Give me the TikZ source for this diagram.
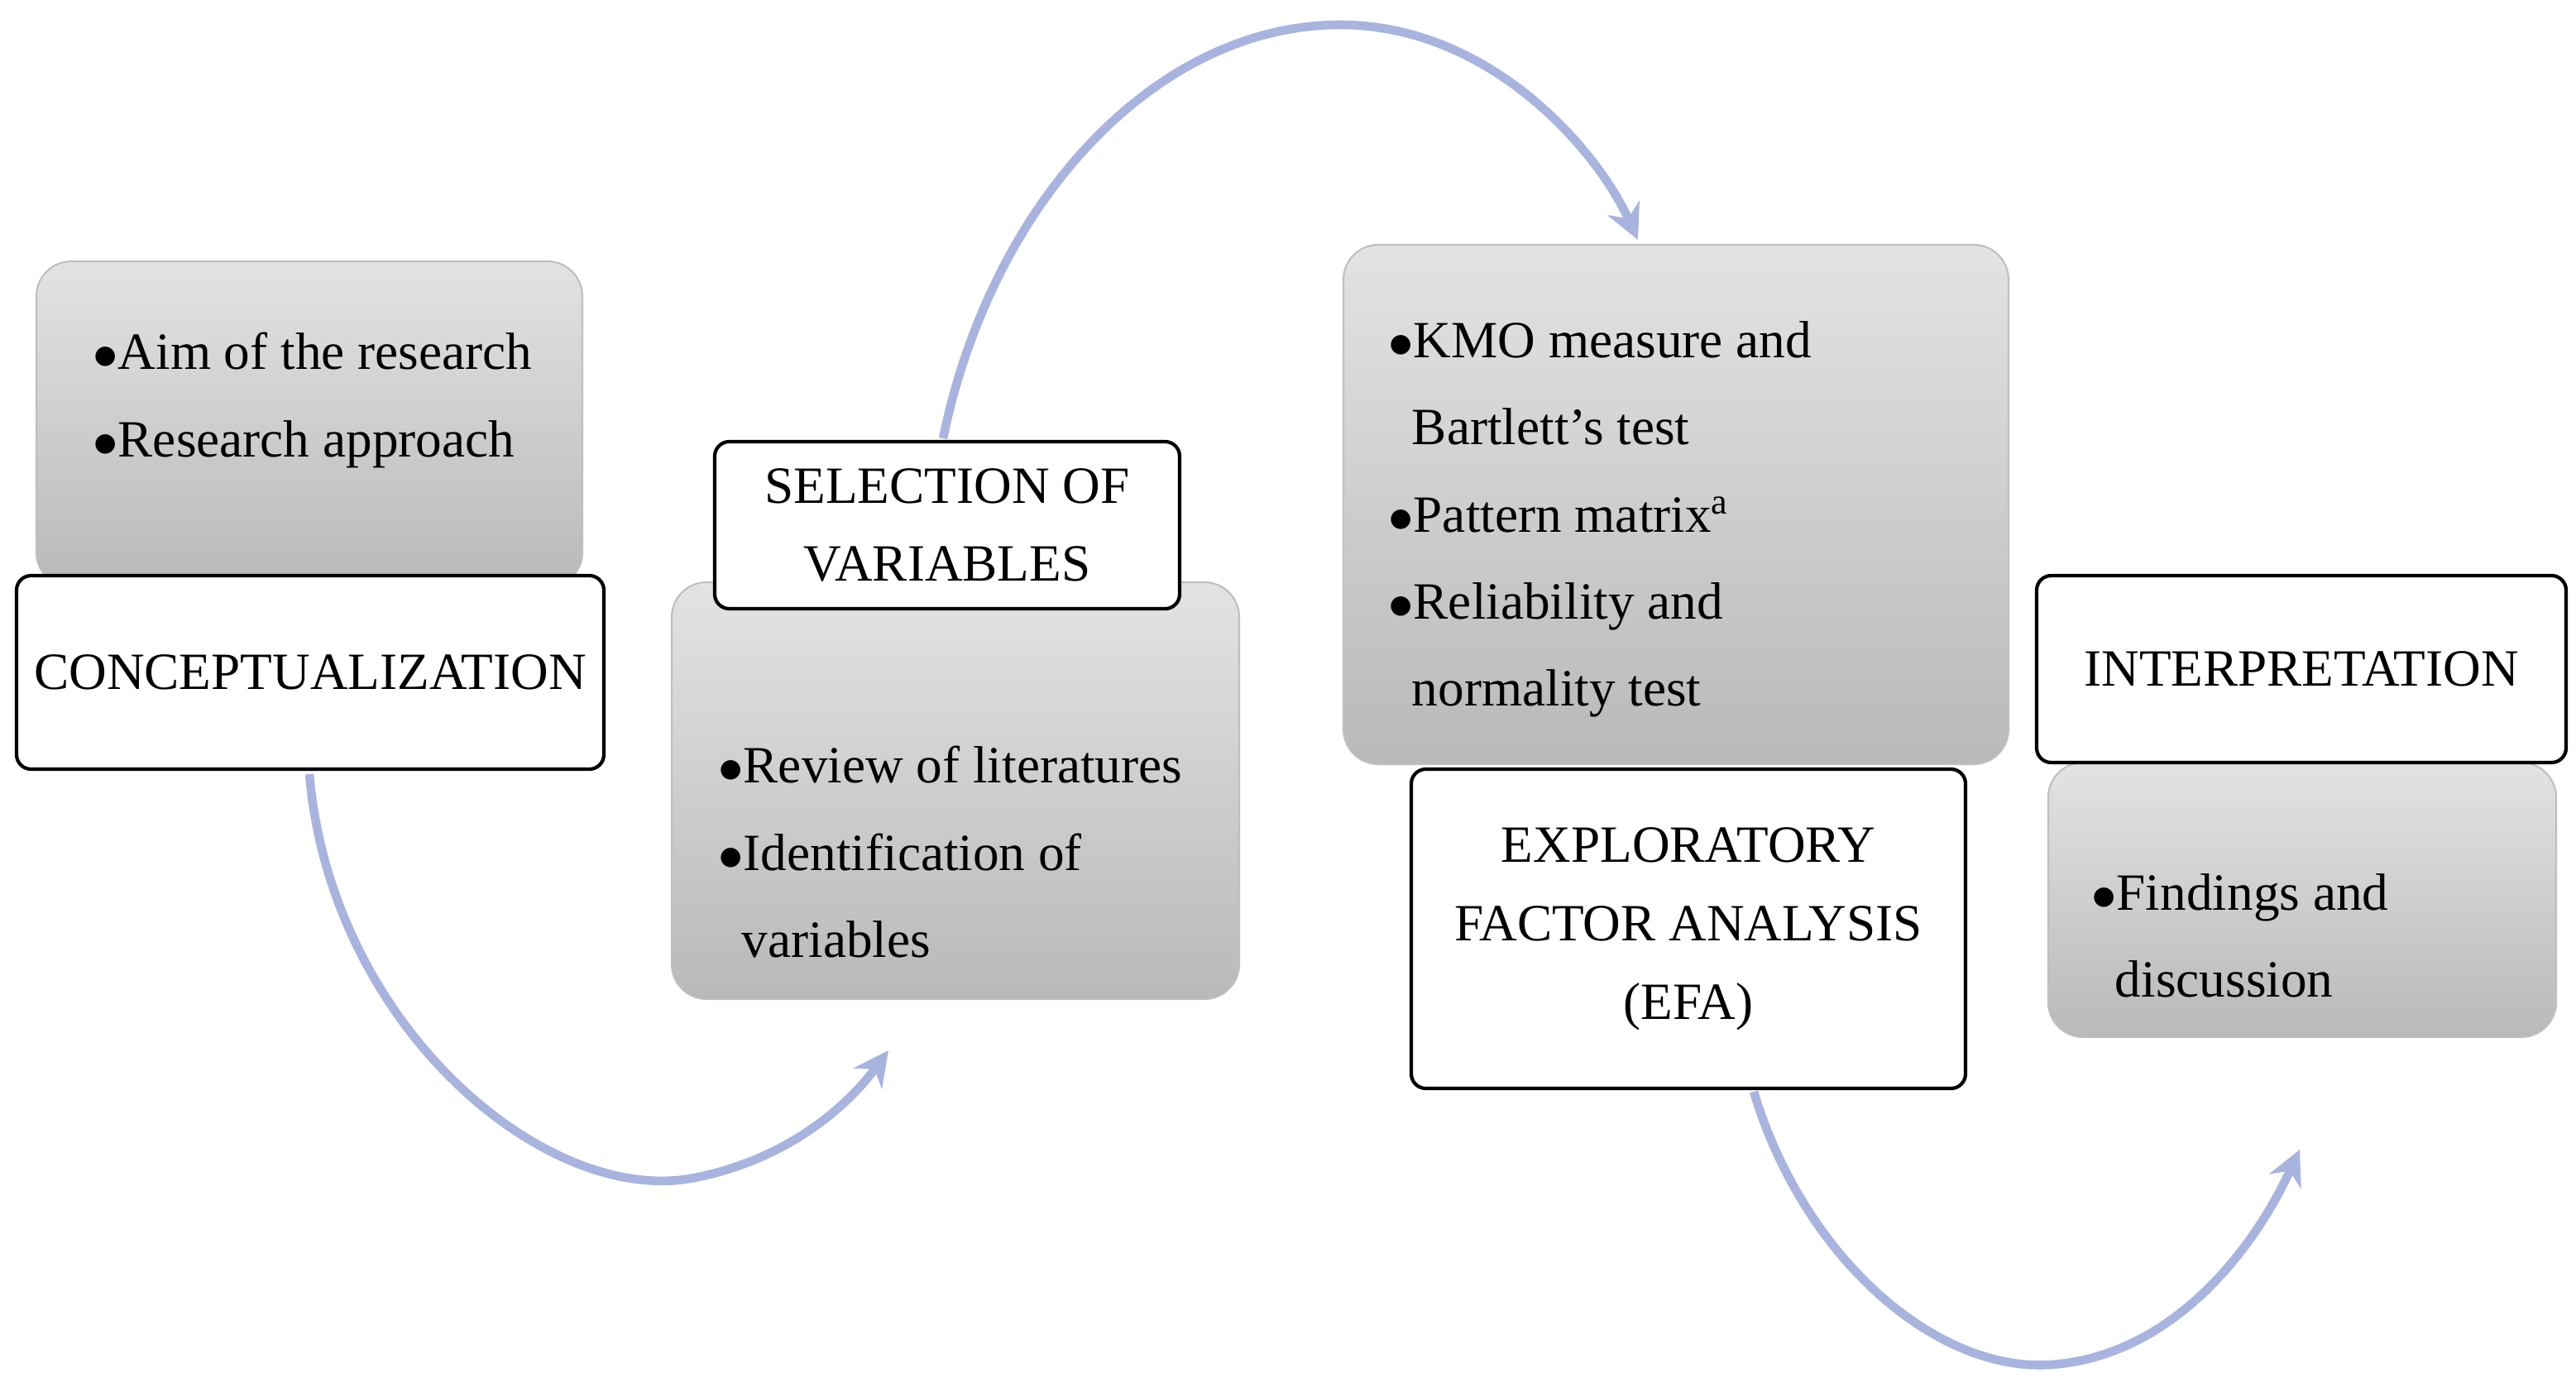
\documentclass[tikz,border=0pt]{standalone}
\usepackage{fontspec}
\setmainfont{Liberation Serif}
\usetikzlibrary{arrows.meta}
\definecolor{arr}{HTML}{A9B4DE}
\tikzset{
 graybox/.style={rounded corners=12pt, top color=gray!22, bottom color=gray!55, draw=gray!50, line width=0.6pt, inner sep=0pt, outer sep=0pt},
 whitebox/.style={rounded corners=5pt, fill=white, draw=black, line width=1.2pt, inner sep=0pt, outer sep=0pt},
 flow/.style={draw=arr, line width=3pt, -{Stealth[length=12pt,width=12pt]}},
 lbl/.style={font=\fontsize{18}{21}\selectfont, align=center},
 itm/.style={font=\fontsize{18}{30}\selectfont, align=left, anchor=north west}
}
\begin{document}
\begin{tikzpicture}[x=0.02cm,y=-0.02cm]
\useasboundingbox (0,0) rectangle (1557,835.5);
\coordinate (a1s) at (187,468); \coordinate (a1e) at (537,635);
\coordinate (a2s) at (570,265); \coordinate (a2e) at (990,145);
\coordinate (a3s) at (1060,660); \coordinate (a3e) at (1390,695);
\draw[flow] (a1s) .. controls (200,620) and (330,730) .. (420,712) .. controls (480,700) and (515,665) .. (a1e);
\draw[flow] (a2s) .. controls (600,120) and (700,15) .. (810,15) .. controls (900,15) and (965,90) .. (a2e);
\draw[flow] (a3s) .. controls (1090,760) and (1170,830) .. (1240,825) .. controls (1310,820) and (1360,760) .. (a3e);
\node[graybox, minimum width=330*0.02cm, minimum height=197*0.02cm, anchor=north west] (g1) at (22,158) {};
\node[itm] (t1) at (50,195) {$\bullet$Aim of the research\\ $\bullet$Research approach};
\node[whitebox, minimum width=355*0.02cm, minimum height=117*0.02cm, anchor=north west, lbl] (w1) at (10,348) {CONCEPTUALIZATION};
\node[graybox, minimum width=343*0.02cm, minimum height=252*0.02cm, anchor=north west] (g2) at (406,352) {};
\node[itm] (t2) at (428,445) {$\bullet$Review of literatures\\ $\bullet$Identification of\\ \hspace*{0.45em}variables};
\node[whitebox, minimum width=281*0.02cm, minimum height=101*0.02cm, anchor=north west, lbl] (w2) at (432,267) {SELECTION OF\\[6pt] VARIABLES};
\node[graybox, minimum width=402*0.02cm, minimum height=314*0.02cm, anchor=north west] (g3) at (812,148) {};
\node[itm] (t3) at (833,188) {$\bullet$KMO measure and\\ \hspace*{0.45em}Bartlett's test\\ $\bullet$Pattern matrix$^{\mathrm a}$\\ $\bullet$Reliability and\\ \hspace*{0.45em}normality test};
\node[whitebox, minimum width=335*0.02cm, minimum height=193*0.02cm, anchor=north west, lbl] (w3) at (853,465) {EXPLORATORY\\[6pt] FACTOR ANALYSIS\\[6pt] (EFA)};
\node[graybox, minimum width=307*0.02cm, minimum height=166*0.02cm, anchor=north west] (g4) at (1238,461) {};
\node[itm] (t4) at (1258,522) {$\bullet$Findings and\\ \hspace*{0.45em}discussion};
\node[whitebox, minimum width=320*0.02cm, minimum height=113*0.02cm, anchor=north west, lbl] (w4) at (1231,348) {INTERPRETATION};
\end{tikzpicture}
\end{document}
